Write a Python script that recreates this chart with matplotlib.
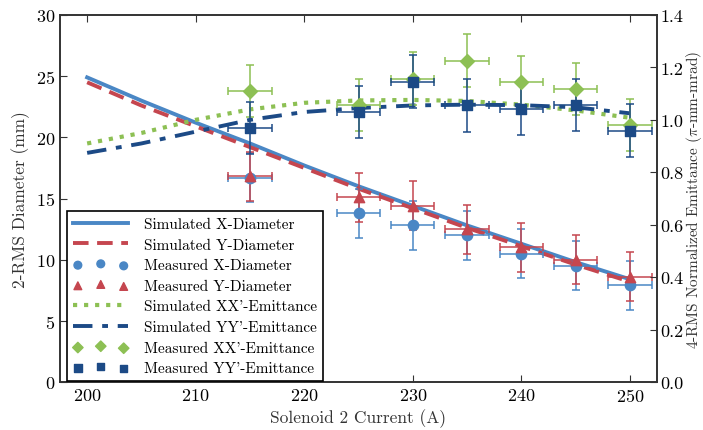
import matplotlib
matplotlib.use("Agg")
import matplotlib.pyplot as plt
import numpy as np

plt.rcParams['font.family'] = ['cmr10', 'DejaVu Serif']
plt.rcParams['mathtext.fontset'] = 'cm'
plt.rcParams['axes.unicode_minus'] = False
plt.rcParams['axes.formatter.use_mathtext'] = True

# Simulated curves
sim_current = [200, 205, 210, 215, 220, 225, 230, 235, 240, 245, 250]
sim_x_diam = [24.9, 23.0, 21.2, 19.5, 17.7, 16.0, 14.4, 12.8, 11.3, 9.8, 8.4]
sim_y_diam = [24.5, 22.6, 20.9, 19.2, 17.5, 15.8, 14.2, 12.6, 11.1, 9.6, 8.2]
sim_xx_emit = [0.91, 0.95, 1.0, 1.04, 1.065, 1.074, 1.076, 1.072, 1.058, 1.036, 1.008]
sim_yy_emit = [0.874, 0.91, 0.955, 1.0, 1.03, 1.045, 1.055, 1.058, 1.056, 1.048, 1.025]

# Measured data
meas_current = [215, 225, 230, 235, 240, 245, 250]
meas_x_diam = [16.7, 13.8, 12.8, 12.0, 10.5, 9.5, 7.9]
meas_y_diam = [16.8, 15.1, 14.4, 12.5, 11.0, 10.0, 8.6]
meas_xx_emit = [1.11, 1.057, 1.157, 1.226, 1.144, 1.118, 0.981]
meas_yy_emit = [0.968, 1.029, 1.146, 1.055, 1.042, 1.057, 0.959]
current_err = 2.0
diam_err = 2.0
emit_err = 0.1

c_blue = '#4a87c5'
c_red = '#c5464f'
c_green = '#8dc054'
c_navy = '#1c4a86'

fig = plt.figure(figsize=(7.03, 4.31), dpi=100)
ax = fig.add_axes([60/703, 1-383/431, (657-60)/703, (383-16)/431])
ax2 = ax.twinx()

l1, = ax.plot(sim_current, sim_x_diam, '-', color=c_blue, lw=2.8, label='Simulated X-Diameter')
l2, = ax.plot(sim_current, sim_y_diam, '--', color=c_red, lw=2.8, dashes=(4, 2.2), label='Simulated Y-Diameter')
ax.errorbar(meas_current, meas_x_diam, yerr=diam_err, xerr=current_err, fmt='none',
            ecolor=c_blue, elinewidth=1.1, capsize=3, capthick=1.1)
s1 = ax.scatter(meas_current, meas_x_diam, marker='o', s=55, color=c_blue, zorder=3,
                label='Measured X-Diameter')
ax.errorbar(meas_current, meas_y_diam, yerr=diam_err, xerr=current_err, fmt='none',
            ecolor=c_red, elinewidth=1.1, capsize=3, capthick=1.1)
s2 = ax.scatter(meas_current, meas_y_diam, marker='^', s=55, color=c_red, zorder=3,
                label='Measured Y-Diameter')

l3, = ax2.plot(sim_current, sim_xx_emit, ':', color=c_green, lw=3.0, label="Simulated XX'-Emittance")
l4, = ax2.plot(sim_current, sim_yy_emit, '-.', color=c_navy, lw=2.8, dashes=(5, 2.5, 1.5, 2.5),
               label="Simulated YY'-Emittance")
ax2.errorbar(meas_current, meas_xx_emit, yerr=emit_err, xerr=current_err, fmt='none',
             ecolor=c_green, elinewidth=1.1, capsize=3, capthick=1.1)
s3 = ax2.scatter(meas_current, meas_xx_emit, marker='D', s=50, color=c_green, zorder=3,
                 label="Measured XX'-Emittance")
ax2.errorbar(meas_current, meas_yy_emit, yerr=emit_err, xerr=current_err, fmt='none',
             ecolor=c_navy, elinewidth=1.1, capsize=3, capthick=1.1)
s4 = ax2.scatter(meas_current, meas_yy_emit, marker='s', s=50, color=c_navy, zorder=3,
                 label="Measured YY'-Emittance")

ax.set_xlim(197.5, 252.5)
ax.set_ylim(0, 30)
ax2.set_ylim(0, 1.4)
ax.set_xticks([200, 210, 220, 230, 240, 250])
ax.set_yticks([0, 5, 10, 15, 20, 25, 30])
ax2.set_yticks([0.0, 0.2, 0.4, 0.6, 0.8, 1.0, 1.2, 1.4])
ax2.set_yticklabels(['0.0', '0.2', '0.4', '0.6', '0.8', '1.0', '1.2', '1.4'])

for a in (ax, ax2):
    for sp in a.spines.values():
        sp.set_color('#333333')
        sp.set_linewidth(1.2)
ax.tick_params(axis='x', direction='in', top=True, labelsize=13, length=5, color='#333333')
ax.tick_params(axis='y', direction='in', labelsize=13, length=5, color='#333333')
ax2.tick_params(axis='y', direction='in', labelsize=13, length=5, color='#333333', pad=2.5)

ax.set_xlabel('Solenoid 2 Current (A)', fontsize=12.5, color='#333333', labelpad=3)
ax.set_ylabel('2-RMS Diameter (mm)', fontsize=12.5, color='#333333')
ax2.set_ylabel(r"4-RMS Normalized Emittance ($\pi$-mm-mrad)", fontsize=11, color='#333333',
               labelpad=0)

handles = [l1, l2, s1, s2, l3, l4, s3, s4]
leg = ax2.legend(handles=handles, loc='lower left', bbox_to_anchor=(0.012, 0.002),
                 borderaxespad=0, fontsize=11, handlelength=3.6, handletextpad=1.0,
                 scatterpoints=3, markerscale=0.75, fancybox=False, framealpha=1,
                 edgecolor='black', labelspacing=0.45)
leg.get_frame().set_linewidth(1.2)
leg.set_zorder(10)

fig.savefig('out.png', dpi=100)
